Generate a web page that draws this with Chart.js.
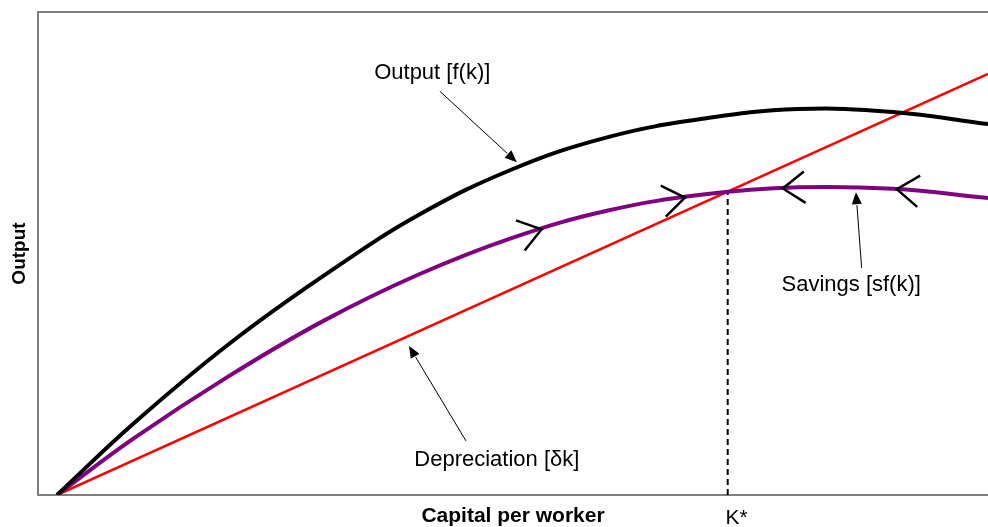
<!DOCTYPE html>
<html>
<head>
<meta charset="utf-8">
<script src="https://cdn.jsdelivr.net/npm/chart.js@4.4.1/dist/chart.umd.min.js"></script>
<style>
  html, body { margin: 0; padding: 0; background: #fff; }
</style>
</head>
<body>
<canvas id="solowChart" width="988" height="527"></canvas>
<script>
// capital per worker (k) and the curves, 0..100 units
const capital = [2, 10, 20, 30, 40, 50, 60, 70, 80, 90, 100];
const output = [0, 14.7, 31.1, 45.3, 57.9, 67.5, 74.1, 77.9, 79.9, 79.3, 76.8];
const savings = [0, 11.6, 24.5, 36.0, 45.6, 53.3, 58.9, 62.2, 63.7, 63.4, 61.5];
const depK = [2, 100];
const depreciation = [0, 87.2];
const kStar = 72.6;
const kStarLevel = 62.7;

// arrows on the savings curve: k position and direction (+1 right, -1 left)
const chevronK = [53, 68.1, 78.4, 90.4];
const chevronDir = [1, 1, -1, -1];

// call-out labels: text, label centre, arrow start, arrow tip (data units)
const labelText = ["Output [f(k)]", "Depreciation [\u03b4k]", "Savings [sf(k)]"];
const labelPos = [[41.5, 87.4], [48.3, 7.2], [85.6, 43.5]];
const arrowFrom = [[42.3, 83.6], [45.05, 11.2], [86.7, 47.0]];
const arrowTo = [[50.4, 68.9], [39.05, 30.85], [86.1, 62.7]];

const toPoints = (xs, ys) => xs.map((x, i) => ({ x: x, y: ys[i] }));

const interp = (xs, ys, x) => {
  for (let i = 1; i < xs.length; i++) {
    if (x <= xs[i]) {
      const t = (x - xs[i - 1]) / (xs[i] - xs[i - 1]);
      return ys[i - 1] + t * (ys[i] - ys[i - 1]);
    }
  }
  return ys[ys.length - 1];
};

const drawArrow = (ctx, x1, y1, x2, y2) => {
  const a = Math.atan2(y2 - y1, x2 - x1);
  const head = 13;
  const half = 0.4;
  ctx.beginPath();
  ctx.moveTo(x1, y1);
  ctx.lineTo(x2 - head * Math.cos(a), y2 - head * Math.sin(a));
  ctx.stroke();
  ctx.beginPath();
  ctx.moveTo(x2, y2);
  ctx.lineTo(x2 - head * Math.cos(a - half), y2 - head * Math.sin(a - half));
  ctx.lineTo(x2 - head * Math.cos(a + half), y2 - head * Math.sin(a + half));
  ctx.closePath();
  ctx.fill();
};

const drawChevron = (ctx, x, y, angle) => {
  const len = 27;
  const spread = 0.62;
  ctx.beginPath();
  ctx.moveTo(x + len * Math.cos(angle + Math.PI - spread), y + len * Math.sin(angle + Math.PI - spread));
  ctx.lineTo(x, y);
  ctx.lineTo(x + len * Math.cos(angle + Math.PI + spread), y + len * Math.sin(angle + Math.PI + spread));
  ctx.stroke();
};

const decorations = {
  id: "decorations",
  afterDatasetsDraw(chart) {
    const { ctx, chartArea, scales } = chart;
    const px = (k) => scales.x.getPixelForValue(k);
    const py = (v) => scales.y.getPixelForValue(v);
    ctx.save();

    // top frame line
    ctx.strokeStyle = "#7f7f7f";
    ctx.lineWidth = 2;
    ctx.beginPath();
    ctx.moveTo(chartArea.left - 1, chartArea.top);
    ctx.lineTo(chartArea.right, chartArea.top);
    ctx.stroke();

    // direction marks on the savings curve
    ctx.strokeStyle = "#000";
    ctx.lineWidth = 2.5;
    chevronK.forEach((k, i) => {
      const x = px(k);
      const y = py(interp(capital, savings, k));
      const x2 = px(k + 2);
      const y2 = py(interp(capital, savings, k + 2));
      let angle = Math.atan2(y2 - y, x2 - x);
      if (chevronDir[i] < 0) angle += Math.PI;
      drawChevron(ctx, x, y, angle);
    });

    // call-outs
    ctx.fillStyle = "#000";
    ctx.strokeStyle = "#000";
    ctx.lineWidth = 1;
    ctx.font = '22px "Liberation Sans", Arial, sans-serif';
    ctx.textAlign = "center";
    ctx.textBaseline = "middle";
    labelText.forEach((t, i) => {
      ctx.fillText(t, px(labelPos[i][0]), py(labelPos[i][1]));
      drawArrow(ctx, px(arrowFrom[i][0]), py(arrowFrom[i][1]), px(arrowTo[i][0]), py(arrowTo[i][1]));
    });

    // K* under the dashed line
    ctx.font = '21px "Liberation Sans", Arial, sans-serif';
    ctx.fillText("K*", px(kStar) + 9, chartArea.bottom + 23);
    ctx.restore();
  }
};

const ctx = document.getElementById("solowChart");
const solowChart = new Chart(ctx, {
  type: "line",
  data: {
    datasets: [
      {
        label: "Output",
        data: toPoints(capital, output),
        borderColor: "#000000",
        borderWidth: 4,
        tension: 0.4,
        pointRadius: 0
      },
      {
        label: "Savings",
        data: toPoints(capital, savings),
        borderColor: "#800080",
        borderWidth: 4,
        tension: 0.4,
        pointRadius: 0
      },
      {
        label: "Depreciation",
        data: toPoints(depK, depreciation),
        borderColor: "#ff0000",
        borderWidth: 2.5,
        pointRadius: 0
      },
      {
        label: "K*",
        data: [{ x: kStar, y: 0 }, { x: kStar, y: kStarLevel }],
        borderColor: "#000000",
        borderWidth: 2,
        borderDash: [6, 4],
        pointRadius: 0
      }
    ]
  },
  options: {
    responsive: false,
    animation: false,
    layout: { padding: { top: 12, right: 0, left: 0, bottom: 0 } },
    plugins: {
      legend: { display: false },
      tooltip: { enabled: false }
    },
    scales: {
      x: {
        type: "linear",
        min: 0,
        max: 100,
        grid: { display: false },
        ticks: { display: false },
        border: { display: true, color: "#7f7f7f", width: 2 },
        title: {
          display: true,
          text: "Capital per worker",
          color: "#000",
          font: { family: '"Liberation Sans", Arial, sans-serif', size: 21, weight: "bold", lineHeight: 1 },
          padding: { top: 0, bottom: 0 }
        },
        afterFit: (scale) => { scale.height = 32; }
      },
      y: {
        min: 0,
        max: 100,
        grid: { display: false },
        ticks: { display: false },
        border: { display: true, color: "#7f7f7f", width: 2 },
        title: {
          display: true,
          text: "Output",
          color: "#000",
          font: { family: '"Liberation Sans", Arial, sans-serif', size: 19, weight: "bold", lineHeight: 1 },
          padding: { top: 10, bottom: 0 }
        },
        afterFit: (scale) => { scale.width = 38; }
      }
    }
  },
  plugins: [decorations]
});
</script>
</body>
</html>
